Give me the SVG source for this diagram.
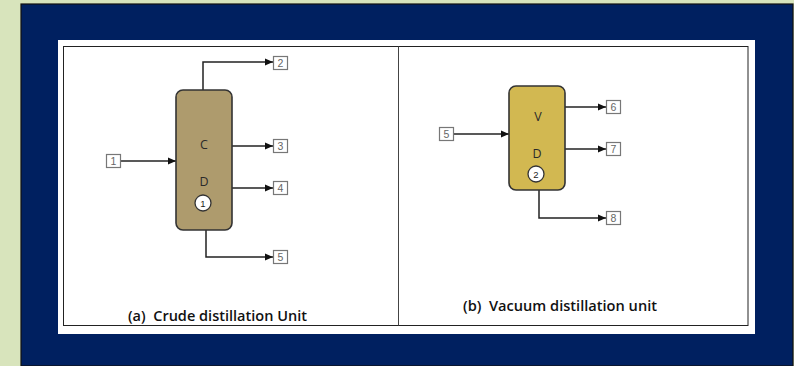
<svg xmlns="http://www.w3.org/2000/svg" width="794" height="366" viewBox="0 0 794 366">
<defs>
<marker id="ah" viewBox="0 0 8 8" refX="8" refY="4" markerWidth="8" markerHeight="8" markerUnits="userSpaceOnUse" orient="auto">
<path d="M0,0.5 L8,4 L0,7.5 Z" fill="#111"/>
</marker>
</defs>
<style>
.conn{fill:none;stroke:#222;stroke-width:1.5;marker-end:url(#ah)}
.sbox{fill:#fff;stroke:#777;stroke-width:1.2}
.snum{font-family:"Liberation Sans",Arial,sans-serif;font-size:10.5px;fill:#666;text-anchor:middle}
.col{stroke:#333;stroke-width:1.6}
.lbl{font-family:"Open Sans","Liberation Sans",sans-serif;font-size:12.5px;fill:#2a2a2a;text-anchor:middle}
.circ{fill:#fff;stroke:#333;stroke-width:1.3}
.cnum{font-family:"Liberation Sans",Arial,sans-serif;font-size:9.5px;fill:#222;text-anchor:middle}
.cap{font-family:"Open Sans","Liberation Sans",sans-serif;font-weight:600;font-size:13.5px;fill:#111}
</style>
<rect x="0" y="0" width="794" height="366" fill="#d8e4bc"/>
<rect x="21" y="4" width="772" height="362" fill="#002060" stroke="#111" stroke-width="1.2"/>
<rect x="58" y="40" width="697" height="294" fill="#fff"/>
<rect x="63.5" y="46.5" width="684.5" height="279" fill="none" stroke="#222" stroke-width="1"/>
<line x1="398.5" y1="46.5" x2="398.5" y2="325.5" stroke="#444" stroke-width="1"/>

<g id="connectors">
<polyline class="conn" points="203,90 203,62 273,62"/>
<polyline class="conn" points="232,146 273,146"/>
<polyline class="conn" points="232,188 273,188"/>
<polyline class="conn" points="121,161 176,161"/>
<polyline class="conn" points="206,230 206,257 273,257"/>
<polyline class="conn" points="454,134 509,134"/>
<polyline class="conn" points="565,107 606,107"/>
<polyline class="conn" points="565,149 606,149"/>
<polyline class="conn" points="539,190 539,218 606,218"/>
</g>

<g id="column-cd">
<rect class="col" x="176" y="90" width="56" height="140" rx="7" fill="#ae9b6d"/>
<text class="lbl" x="204" y="148.5">C</text>
<text class="lbl" x="204" y="185.5">D</text>
<circle class="circ" cx="203" cy="203" r="8"/>
<text class="cnum" x="203" y="206.5">1</text>
</g>

<g id="column-vd">
<rect class="col" x="509" y="86" width="56" height="104" rx="7" fill="#d2b851"/>
<text class="lbl" x="538" y="120.5">V</text>
<text class="lbl" x="537" y="157.5">D</text>
<circle class="circ" cx="536" cy="174" r="8"/>
<text class="cnum" x="536" y="177.5">2</text>
</g>

<g id="s1"><rect class="sbox" x="106.5" y="154.5" width="14" height="13"/><text class="snum" x="113.5" y="165">1</text></g>
<g id="s2"><rect class="sbox" x="273.5" y="56.5" width="14" height="13"/><text class="snum" x="280.5" y="67">2</text></g>
<g id="s3"><rect class="sbox" x="273.5" y="139.5" width="14" height="13"/><text class="snum" x="280.5" y="150">3</text></g>
<g id="s4"><rect class="sbox" x="273.5" y="181.5" width="14" height="13"/><text class="snum" x="280.5" y="192">4</text></g>
<g id="s5a"><rect class="sbox" x="273.5" y="250.5" width="14" height="13"/><text class="snum" x="280.5" y="261">5</text></g>
<g id="s5b"><rect class="sbox" x="439.5" y="127.5" width="14" height="13"/><text class="snum" x="446.5" y="138">5</text></g>
<g id="s6"><rect class="sbox" x="606.5" y="100.5" width="14" height="13"/><text class="snum" x="613.5" y="111">6</text></g>
<g id="s7"><rect class="sbox" x="606.5" y="142.5" width="14" height="13"/><text class="snum" x="613.5" y="153">7</text></g>
<g id="s8"><rect class="sbox" x="606.5" y="211.5" width="14" height="13"/><text class="snum" x="613.5" y="222">8</text></g>

<g id="captions">
<text class="cap" x="128" y="321" textLength="179" lengthAdjust="spacingAndGlyphs" xml:space="preserve">(a)  Crude distillation Unit</text>
<text class="cap" x="463" y="311" textLength="194" lengthAdjust="spacingAndGlyphs" xml:space="preserve">(b)  Vacuum distillation unit</text>
</g>
</svg>
